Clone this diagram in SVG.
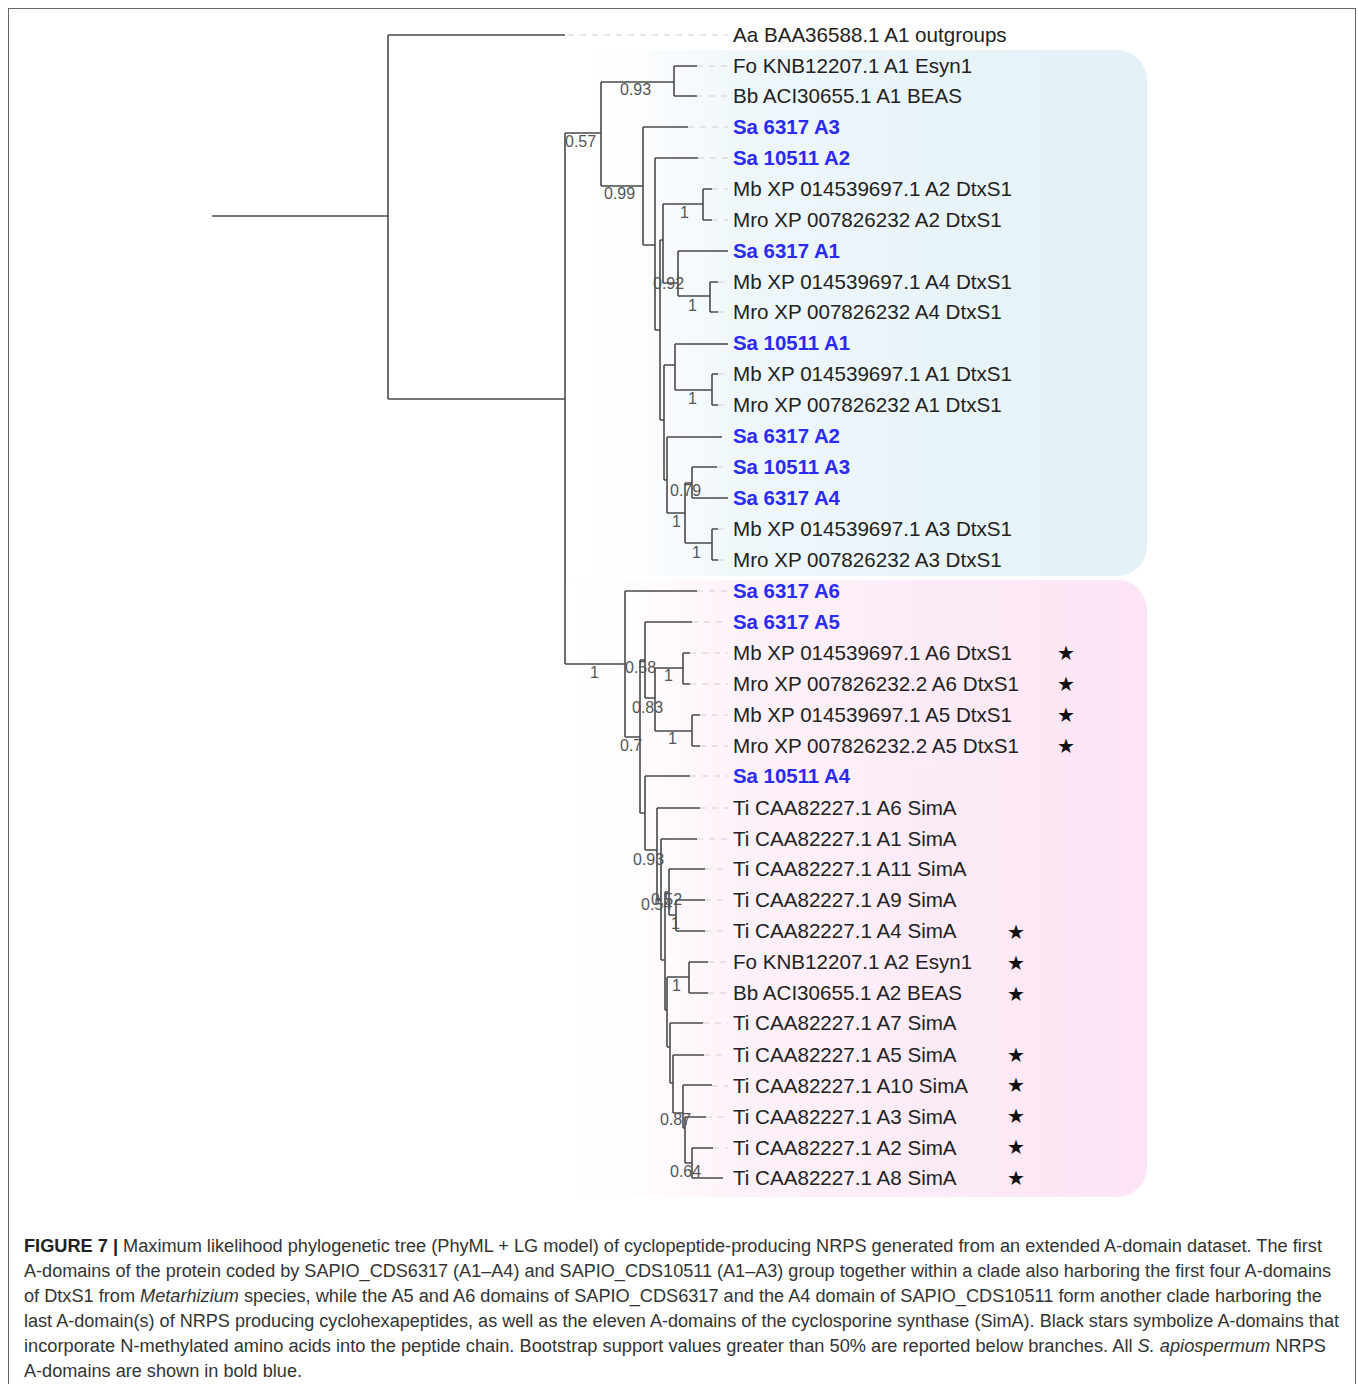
<svg xmlns="http://www.w3.org/2000/svg" width="1358" height="1384" viewBox="0 0 1358 1384">
<style>
.br{fill:none;stroke:#4a4a4a;stroke-width:1.6}
.ds{fill:none;stroke:#cfcfcf;stroke-width:1.2;stroke-dasharray:6 6}
.lf{font-family:"Liberation Sans",Arial,sans-serif;font-size:20.6px;fill:#222}
.sa{font-family:"Liberation Sans",Arial,sans-serif;font-size:20.4px;fill:#2a2af0;font-weight:bold}
.bs{font-family:"Liberation Sans",Arial,sans-serif;font-size:16px;fill:#555}
.st{font-family:"DejaVu Sans",sans-serif;font-size:20px;fill:#111}
.cap{font-family:"Liberation Sans",Arial,sans-serif;font-size:18px;fill:#333}
</style>
<defs>
<linearGradient id="gb" x1="0" y1="0" x2="1" y2="0">
<stop offset="0" stop-color="#ffffff" stop-opacity="0"/>
<stop offset="0.35" stop-color="#eef6fa"/>
<stop offset="1" stop-color="#e3f1f6"/>
</linearGradient>
<linearGradient id="gp" x1="0" y1="0" x2="1" y2="0">
<stop offset="0" stop-color="#ffffff" stop-opacity="0"/>
<stop offset="0.35" stop-color="#fdf1f9"/>
<stop offset="1" stop-color="#fce4f4"/>
</linearGradient>
</defs>
<rect x="0" y="0" width="1358" height="1384" fill="#fff"/>
<rect x="8.5" y="8.5" width="1347" height="1400" fill="none" stroke="#666" stroke-width="1"/>
<g id="clade-blue"><rect x="530" y="50" width="617" height="526" rx="30" fill="url(#gb)"/></g>
<g id="clade-pink"><rect x="530" y="580" width="617" height="617" rx="30" fill="url(#gp)"/></g>
<g id="connectors">
<path class="br" d="M212,216H388M388,35V399M388,35H565M388,399H565M565,133V664M565,133H601M601,82V186M601,82H674M674,66V96M674,66H697M674,96H697M601,186H643M643,127V245M643,127H688M643,245H655M655,158V330M655,158H698M655,330H660M660,240V420M660,240H663M663,204V283M663,204H703M703,189V220M703,189H712M703,220H712M663,283H678M678,251V296M678,251H728M678,296H710M710,282V312M710,282H718M710,312H718M660,420H664M664,365V480M664,365H675M675,344V390M675,344H728M675,390H712M712,374V405M712,374H718M712,405H718M664,480H667M667,437V513M667,437H722M667,513H685M685,483V543M685,483H692M692,467V498M692,467H717M692,498H728M685,543H712M712,529V560M712,529H718M712,560H718"/>
<path class="br" d="M565,664H625M625,591V737M625,591H697M625,737H640M640,660V813M640,660H645M645,622V698M645,622H692M645,698H655M655,668V731M655,668H683M683,653V684M683,653H690M683,684H690M655,731H692M692,715V746M692,715H700M692,746H700M640,813H645M645,776V850M645,776H690M645,850H657M657,808V900M657,808H700M657,900H661M661,839V960M661,839H697M661,960H665M665,892V1010M665,892H669M669,869V915M669,869H705M669,915H676M676,900V931M676,900H705M676,931H705M665,1010H667M667,977V1047M667,977H689M689,962V993M689,962H708M689,993H708M667,1047H670M670,1023V1083M670,1023H703M670,1083H673M673,1055V1113M673,1055H704M673,1113H683M683,1085V1128M683,1085H712M683,1128H685M685,1117V1163M685,1117H706M685,1163H692M692,1148V1178M692,1148H713M692,1178H723"/>
<path class="ds" d="M568,35H728M697,66H728M697,96H728M688,127H728M698,158H728M712,189H728M712,220H728M718,282H728M718,312H728M718,374H728M718,405H728M717,467H728M718,529H728M718,560H728M697,591H728M692,622H728M690,653H728M690,684H728M700,715H728M700,746H728M690,776H728M700,808H728M697,839H728M705,869H728M705,900H728M705,931H728M708,962H728M708,993H728M703,1023H728M704,1055H728M712,1086H728M706,1117H728M713,1148H728"/>
</g>
<g id="support">
<text class="bs" x="565" y="147">0.57</text>
<text class="bs" x="620" y="95">0.93</text>
<text class="bs" x="604" y="199">0.99</text>
<text class="bs" x="680" y="218">1</text>
<text class="bs" x="653" y="289">0.92</text>
<text class="bs" x="688" y="311">1</text>
<text class="bs" x="688" y="404">1</text>
<text class="bs" x="670" y="496">0.79</text>
<text class="bs" x="672" y="527">1</text>
<text class="bs" x="692" y="558">1</text>
<text class="bs" x="590" y="678">1</text>
<text class="bs" x="625" y="673">0.58</text>
<text class="bs" x="664" y="681">1</text>
<text class="bs" x="632" y="713">0.83</text>
<text class="bs" x="668" y="744">1</text>
<text class="bs" x="620" y="751">0.7</text>
<text class="bs" x="633" y="865">0.93</text>
<text class="bs" x="641" y="910">0.54</text>
<text class="bs" x="651" y="905">0.52</text>
<text class="bs" x="671" y="929">1</text>
<text class="bs" x="672" y="991">1</text>
<text class="bs" x="660" y="1125">0.87</text>
<text class="bs" x="670" y="1177">0.64</text>
</g>
<g id="leaves">
<text class="lf" x="733" y="42">Aa BAA36588.1 A1 outgroups</text>
<text class="lf" x="733" y="73">Fo KNB12207.1 A1 Esyn1</text>
<text class="lf" x="733" y="103">Bb ACI30655.1 A1 BEAS</text>
<text class="sa" x="733" y="134">Sa 6317 A3</text>
<text class="sa" x="733" y="165">Sa 10511 A2</text>
<text class="lf" x="733" y="196">Mb XP 014539697.1 A2 DtxS1</text>
<text class="lf" x="733" y="227">Mro XP 007826232 A2 DtxS1</text>
<text class="sa" x="733" y="258">Sa 6317 A1</text>
<text class="lf" x="733" y="289">Mb XP 014539697.1 A4 DtxS1</text>
<text class="lf" x="733" y="319">Mro XP 007826232 A4 DtxS1</text>
<text class="sa" x="733" y="350">Sa 10511 A1</text>
<text class="lf" x="733" y="381">Mb XP 014539697.1 A1 DtxS1</text>
<text class="lf" x="733" y="412">Mro XP 007826232 A1 DtxS1</text>
<text class="sa" x="733" y="443">Sa 6317 A2</text>
<text class="sa" x="733" y="474">Sa 10511 A3</text>
<text class="sa" x="733" y="505">Sa 6317 A4</text>
<text class="lf" x="733" y="536">Mb XP 014539697.1 A3 DtxS1</text>
<text class="lf" x="733" y="567">Mro XP 007826232 A3 DtxS1</text>
<text class="sa" x="733" y="598">Sa 6317 A6</text>
<text class="sa" x="733" y="629">Sa 6317 A5</text>
<text class="lf" x="733" y="660">Mb XP 014539697.1 A6 DtxS1</text>
<text class="lf" x="733" y="691">Mro XP 007826232.2 A6 DtxS1</text>
<text class="lf" x="733" y="722">Mb XP 014539697.1 A5 DtxS1</text>
<text class="lf" x="733" y="753">Mro XP 007826232.2 A5 DtxS1</text>
<text class="sa" x="733" y="783">Sa 10511 A4</text>
<text class="lf" x="733" y="815">Ti CAA82227.1 A6 SimA</text>
<text class="lf" x="733" y="846">Ti CAA82227.1 A1 SimA</text>
<text class="lf" x="733" y="876">Ti CAA82227.1 A11 SimA</text>
<text class="lf" x="733" y="907">Ti CAA82227.1 A9 SimA</text>
<text class="lf" x="733" y="938">Ti CAA82227.1 A4 SimA</text>
<text class="lf" x="733" y="969">Fo KNB12207.1 A2 Esyn1</text>
<text class="lf" x="733" y="1000">Bb ACI30655.1 A2 BEAS</text>
<text class="lf" x="733" y="1030">Ti CAA82227.1 A7 SimA</text>
<text class="lf" x="733" y="1062">Ti CAA82227.1 A5 SimA</text>
<text class="lf" x="733" y="1093">Ti CAA82227.1 A10 SimA</text>
<text class="lf" x="733" y="1124">Ti CAA82227.1 A3 SimA</text>
<text class="lf" x="733" y="1155">Ti CAA82227.1 A2 SimA</text>
<text class="lf" x="733" y="1185">Ti CAA82227.1 A8 SimA</text>
</g>
<g id="stars">
<text class="st" x="1057" y="660">★</text>
<text class="st" x="1057" y="691">★</text>
<text class="st" x="1057" y="722">★</text>
<text class="st" x="1057" y="753">★</text>
<text class="st" x="1007" y="939">★</text>
<text class="st" x="1007" y="970">★</text>
<text class="st" x="1007" y="1001">★</text>
<text class="st" x="1007" y="1062">★</text>
<text class="st" x="1007" y="1092">★</text>
<text class="st" x="1007" y="1123">★</text>
<text class="st" x="1007" y="1154">★</text>
<text class="st" x="1007" y="1185">★</text>
</g>
<g id="caption">
<text class="cap" x="24" y="1252" textLength="1298" lengthAdjust="spacingAndGlyphs"><tspan font-weight="bold" fill="#222">FIGURE 7 |</tspan> Maximum likelihood phylogenetic tree (PhyML + LG model) of cyclopeptide-producing NRPS generated from an extended A-domain dataset. The first</text>
<text class="cap" x="24" y="1277" textLength="1307" lengthAdjust="spacingAndGlyphs">A-domains of the protein coded by SAPIO_CDS6317 (A1–A4) and SAPIO_CDS10511 (A1–A3) group together within a clade also harboring the first four A-domains</text>
<text class="cap" x="24" y="1302" textLength="1298" lengthAdjust="spacingAndGlyphs">of DtxS1 from <tspan font-style="italic">Metarhizium</tspan> species, while the A5 and A6 domains of SAPIO_CDS6317 and the A4 domain of SAPIO_CDS10511 form another clade harboring the</text>
<text class="cap" x="24" y="1327" textLength="1315" lengthAdjust="spacingAndGlyphs">last A-domain(s) of NRPS producing cyclohexapeptides, as well as the eleven A-domains of the cyclosporine synthase (SimA). Black stars symbolize A-domains that</text>
<text class="cap" x="24" y="1352" textLength="1302" lengthAdjust="spacingAndGlyphs">incorporate N-methylated amino acids into the peptide chain. Bootstrap support values greater than 50% are reported below branches. All <tspan font-style="italic">S. apiospermum</tspan> NRPS</text>
<text class="cap" x="24" y="1377" textLength="278" lengthAdjust="spacingAndGlyphs">A-domains are shown in bold blue.</text>
</g>
</svg>
